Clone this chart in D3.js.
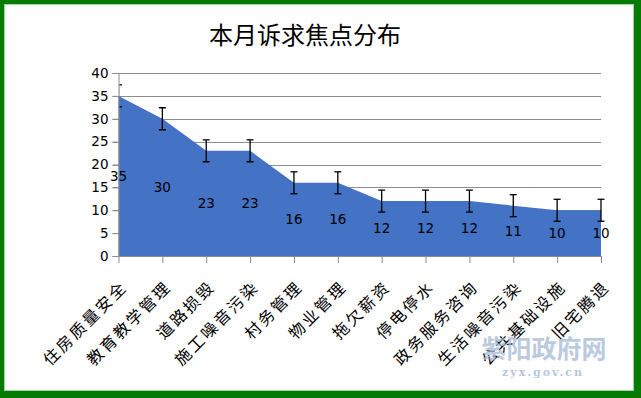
<!DOCTYPE html>
<html>
<head>
<meta charset="utf-8">
<script src="https://cdn.jsdelivr.net/npm/d3@7/dist/d3.min.js"></script>
<style>
  html, body { margin: 0; padding: 0; background: #fff; }
  svg { display: block; }
</style>
</head>
<body>
<div id="chart"></div>
<script>
// categories and values
const categories = ["住房质量安全", "教育教学管理", "道路损毁", "施工噪音污染", "村务管理", "物业管理",
  "拖欠薪资", "停电停水", "政务服务咨询", "生活噪音污染", "公共基础设施", "旧宅腾退"];
const counts = [35, 30, 23, 23, 16, 16, 12, 12, 12, 11, 10, 10];
const errorAmount = 2.4; // same size error bar on every point
const yTicks = [0, 5, 10, 15, 20, 25, 30, 35, 40];

const width = 641;
const height = 398;
const margin = { top: 73, right: 40, bottom: 142, left: 118.5 };

const svg = d3.select("#chart")
  .append("svg")
  .attr("width", width)
  .attr("height", height);

// green frame
svg.append("rect")
  .attr("x", 0).attr("y", 0)
  .attr("width", width).attr("height", height)
  .attr("fill", "#047c04");
svg.append("rect")
  .attr("x", 4.5).attr("y", 4.5)
  .attr("width", 629).attr("height", 386)
  .attr("fill", "#fff")
  .attr("stroke", "#9fd89f")
  .attr("stroke-width", 1);

// title
svg.append("text")
  .attr("x", 305)
  .attr("y", 44)
  .attr("text-anchor", "middle")
  .attr("font-family", "'Noto Sans CJK SC', sans-serif")
  .attr("font-size", 24)
  .attr("fill", "#000")
  .text("本月诉求焦点分布");

const x = d3.scalePoint()
  .domain(categories)
  .range([margin.left, width - margin.right]);

const y = d3.scaleLinear()
  .domain([0, 40])
  .range([height - margin.bottom, margin.top]);

// gridlines
svg.append("g")
  .selectAll("line")
  .data(yTicks.filter(d => d > 0))
  .enter().append("line")
  .attr("x1", margin.left - 6)
  .attr("x2", width - margin.right)
  .attr("y1", d => Math.round(y(d)) + 0.5)
  .attr("y2", d => Math.round(y(d)) + 0.5)
  .attr("stroke", "#8c8c8c")
  .attr("stroke-width", 1);

// area
const area = d3.area()
  .x((d, i) => x(categories[i]))
  .y0(y(0))
  .y1(d => y(d));

svg.append("path")
  .datum(counts)
  .attr("d", area)
  .attr("fill", "#4472c4");

// y axis
const yAxis = svg.append("g")
  .attr("transform", `translate(${margin.left},0)`)
  .call(d3.axisLeft(y).tickValues(yTicks).tickSize(6).tickPadding(4).tickFormat(d3.format("d")));
yAxis.select(".domain").attr("stroke", "#8c8c8c");
yAxis.selectAll(".tick line").attr("stroke", "#8c8c8c");
yAxis.selectAll("text")
  .attr("font-family", "'DejaVu Sans', Verdana, sans-serif")
  .attr("font-size", 13.5)
  .attr("fill", "#000");

// x axis
const xAxis = svg.append("g")
  .attr("transform", `translate(0,${y(0)})`)
  .call(d3.axisBottom(x).tickSize(7).tickSizeOuter(0).tickFormat(""));
xAxis.select(".domain").attr("stroke", "#8c8c8c");
xAxis.selectAll(".tick line").attr("stroke", "#8c8c8c");

// rotated category labels
svg.append("g")
  .selectAll("text")
  .data(categories)
  .enter().append("text")
  .attr("transform", d => `translate(${x(d) + 6},${y(0) + 28}) rotate(-45)`)
  .attr("text-anchor", "end")
  .attr("dy", "0.35em")
  .attr("font-family", "'Noto Sans CJK SC', sans-serif")
  .attr("font-size", 16)
  .attr("letter-spacing", 2.5)
  .attr("fill", "#000")
  .text(d => d);

// error bars (clipped on the left at the axis like the original)
svg.append("clipPath")
  .attr("id", "plotclip")
  .append("rect")
  .attr("x", margin.left + 1).attr("y", 0)
  .attr("width", width).attr("height", height);

const bars = svg.append("g")
  .attr("clip-path", "url(#plotclip)")
  .selectAll("g")
  .data(counts)
  .enter().append("g")
  .attr("stroke", "#000")
  .attr("stroke-width", 1.3);

bars.append("line")
  .attr("x1", (d, i) => x(categories[i]))
  .attr("x2", (d, i) => x(categories[i]))
  .attr("y1", d => y(d + errorAmount))
  .attr("y2", d => y(d - errorAmount));
bars.append("line")
  .attr("x1", (d, i) => x(categories[i]) - 3.5)
  .attr("x2", (d, i) => x(categories[i]) + 3.5)
  .attr("y1", d => y(d + errorAmount))
  .attr("y2", d => y(d + errorAmount));
bars.append("line")
  .attr("x1", (d, i) => x(categories[i]) - 3.5)
  .attr("x2", (d, i) => x(categories[i]) + 3.5)
  .attr("y1", d => y(d - errorAmount))
  .attr("y2", d => y(d - errorAmount));

// data labels sit halfway down the area
svg.append("g")
  .selectAll("text")
  .data(counts)
  .enter().append("text")
  .attr("x", (d, i) => x(categories[i]))
  .attr("y", d => y(d / 2))
  .attr("dy", "0.35em")
  .attr("text-anchor", "middle")
  .attr("font-family", "'DejaVu Sans', Verdana, sans-serif")
  .attr("font-size", 13.5)
  .attr("fill", "#000")
  .text(d => d);

// watermark
svg.append("text")
  .attr("x", 544)
  .attr("y", 358)
  .attr("text-anchor", "middle")
  .attr("font-family", "'Noto Sans CJK SC', sans-serif")
  .attr("font-weight", "bold")
  .attr("font-size", 25)
  .attr("fill", "#a9bcd6")
  .attr("fill-opacity", 0.8)
  .text("紫阳政府网");
svg.append("text")
  .attr("x", 543)
  .attr("y", 376)
  .attr("text-anchor", "middle")
  .attr("font-family", "'DejaVu Serif', serif")
  .attr("font-weight", "bold")
  .attr("font-size", 11)
  .attr("letter-spacing", 2)
  .attr("fill", "#a9bcd6")
  .attr("fill-opacity", 0.85)
  .text("zyx.gov.cn");
</script>
</body>
</html>
